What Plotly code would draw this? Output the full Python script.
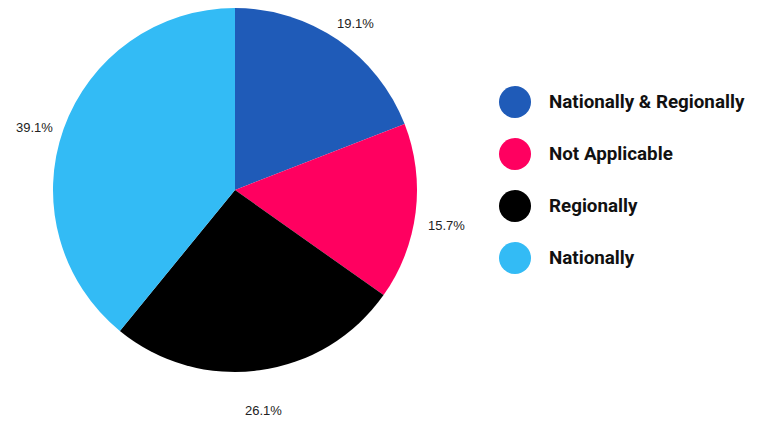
import math
import plotly.graph_objects as go

labels = ["Nationally & Regionally", "Not Applicable", "Regionally", "Nationally"]
values = [19.1, 15.7, 26.1, 39.1]
colors = ["#1f5bb8", "#ff0060", "#000000", "#33bbf5"]

W, H = 760, 421
OFF = 8  # page body margin
cx, cy, r = 235 - OFF, 190 - OFF, 182

fig = go.Figure(go.Pie(
    labels=labels, values=values, sort=False, direction="clockwise", rotation=0,
    marker=dict(colors=colors, line=dict(width=0)),
    textinfo="none", hoverinfo="label+percent", showlegend=False,
    domain=dict(x=[(cx - r) / W, (cx + r) / W], y=[1 - (cy + r) / H, 1 - (cy - r) / H]),
))

annotations = []
shapes = []
total = sum(values)
cum = 0.0
for lab, v in zip(labels, values):
    mid = (cum + v / 2) / total * 2 * math.pi
    cum += v
    d = r + 31
    x = cx + d * math.sin(mid)
    y = cy - d * math.cos(mid) + 9
    annotations.append(dict(
        x=x / W, y=1 - y / H, xref="paper", yref="paper", showarrow=False,
        text=f"{v:.1f}%", font=dict(family="Liberation Sans, Arial", size=13, color="#222222"),
        xanchor="center", yanchor="middle",
    ))

ly0, lstep, lx, rad = 102 - OFF, 52, 515 - OFF, 16
for i, (lab, col) in enumerate(zip(labels, colors)):
    yy = ly0 + i * lstep
    shapes.append(dict(
        type="circle", xref="paper", yref="paper",
        x0=(lx - rad) / W, x1=(lx + rad) / W, y0=1 - (yy + rad) / H, y1=1 - (yy - rad) / H,
        fillcolor=col, line=dict(width=0),
    ))
    annotations.append(dict(
        x=(547 - OFF) / W, y=1 - yy / H, xref="paper", yref="paper", showarrow=False,
        text=f"<b>{lab}</b>", font=dict(family="Roboto", size=18.8, color="#111111"),
        xanchor="left", yanchor="middle",
    ))

fig.update_layout(
    width=W, height=H, margin=dict(l=0, r=0, t=0, b=0),
    paper_bgcolor="white", plot_bgcolor="white",
    annotations=annotations, shapes=shapes,
)
fig.write_html("out.html")
